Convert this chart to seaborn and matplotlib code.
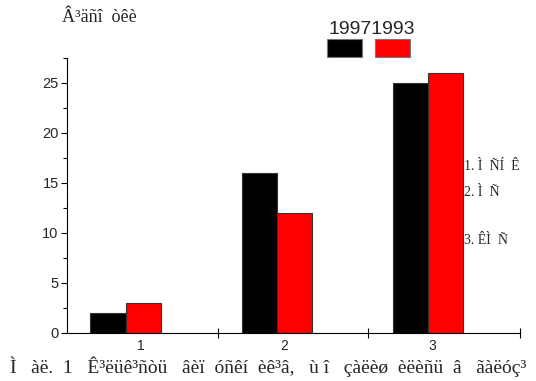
import matplotlib
matplotlib.use("Agg")
import matplotlib.pyplot as plt
from matplotlib.patches import Rectangle
from matplotlib.ticker import MultipleLocator, FixedLocator
import pandas as pd
import seaborn as sns

categories = ["1", "2", "3"]
years = ["1997", "1993"]
values_1997 = [2, 16, 25]
values_1993 = [3, 12, 26]
colors = ["#000000", "#ff0000"]
y_title = "Â³äñî  òêè"
side_notes = ["1. Ì  ÑÍ  Ê", "2. Ì  Ñ", "3. ÊÌ  Ñ"]
caption = "Ì   àë.  1   Ê³ëüê³ñòü   âèï  óñêí  èê³â,   ù î   çàëèø  èëèñü  â   ãàëóç³"

df = pd.DataFrame({
    "cat": categories * 2,
    "val": values_1997 + values_1993,
    "year": [years[0]] * 3 + [years[1]] * 3,
})

sns.set_style("white")
plt.rcParams["font.family"] = ["Liberation Sans", "DejaVu Sans"]

fig = plt.figure(figsize=(5.36, 3.81), dpi=100)
ax = fig.add_axes([0.125, 0.126, 0.845, 0.722])

sns.barplot(data=df, x="cat", y="val", hue="year", hue_order=years,
            palette=colors, width=0.465, saturation=1, ax=ax,
            edgecolor="#333333", linewidth=0.8, legend=False)

ax.set_xlim(-0.387, 2.607)
ax.set_ylim(0, 27.5)
ax.set_xlabel("")
ax.set_ylabel("")

for side in ("top", "right"):
    ax.spines[side].set_visible(False)
for side in ("left", "bottom"):
    ax.spines[side].set_color("#000000")
    ax.spines[side].set_linewidth(0.8)

ax.yaxis.set_major_locator(MultipleLocator(5))
ax.yaxis.set_minor_locator(MultipleLocator(2.5))
ax.tick_params(axis="y", which="major", direction="out", length=4, width=0.8,
               color="#000000", labelsize=10.5, pad=2, left=True)
ax.tick_params(axis="y", which="minor", direction="out", length=3, width=0.8,
               color="#000000", left=True)

ax.set_xticks([0.1, 1.05, 2.03], categories)
ax.xaxis.set_minor_locator(FixedLocator([0.61, 1.6, 2.607]))
ax.tick_params(axis="x", which="major", length=0, labelsize=10, pad=4)
ax.tick_params(axis="x", which="minor", direction="inout", length=7, width=0.8,
               color="#000000", bottom=True)

# year labels with colour boxes underneath
fig.text(372 / 536, 1 - 30 / 381, years[0] + years[1], ha="center", va="center",
         fontsize=14, family="Liberation Sans")
for x0, c in zip([327, 375], colors):
    fig.patches.append(Rectangle((x0 / 536, 1 - 57 / 381), 35 / 536, 18 / 381,
                                 transform=fig.transFigure, facecolor=c,
                                 edgecolor="#777777", linewidth=0.8))

fig.text(62 / 536, 1 - 18 / 381, y_title, ha="left", va="center",
         fontsize=13, family="Liberation Serif")

for txt, yy in zip(side_notes, [167, 193, 241]):
    fig.text(464 / 536, 1 - yy / 381, txt, ha="left", va="center",
             fontsize=10, family="Liberation Serif")

fig.text(268 / 536, 1 - 367 / 381, caption, ha="center", va="center",
         fontsize=14, family="Liberation Serif")

fig.savefig("out.png", dpi=100, facecolor="white")
